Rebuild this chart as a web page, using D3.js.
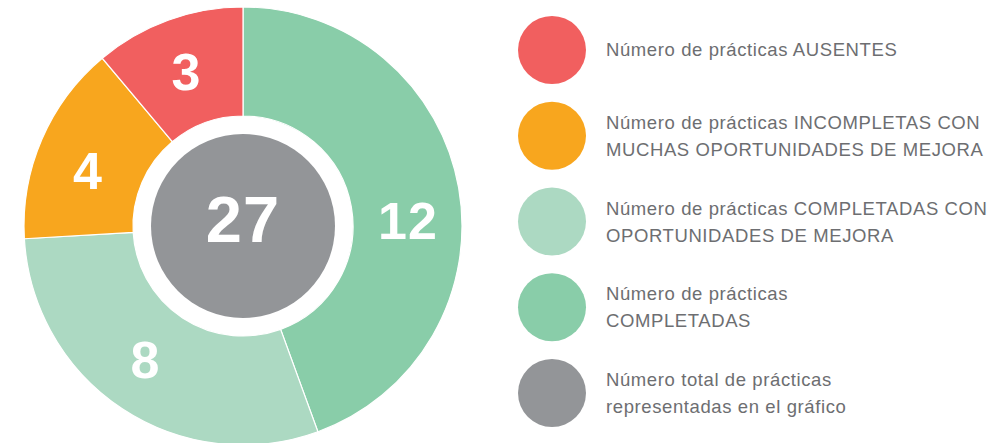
<!DOCTYPE html>
<html lang="es">
<head>
<meta charset="utf-8">
<script src="https://cdn.jsdelivr.net/npm/d3@7"></script>
<style>
    body { margin: 0; background: #fff; }
    .leyenda text {
        font-family: "Liberation Sans", Arial, sans-serif;
        font-size: 18.5px;
        letter-spacing: 0.6px;
        fill: #6d6e71;
    }
    .valor {
        font-family: "Liberation Sans", Arial, sans-serif;
        font-weight: bold;
        fill: #fff;
    }
</style>
</head>
<body>
<script>
// segmentos en sentido horario desde arriba
const categorias = ["COMPLETADAS", "COMPLETADAS CON OPORTUNIDADES", "INCOMPLETAS", "AUSENTES"];
const valores = [12, 8, 4, 3];
const colores = ["#89cda9", "#acd9c2", "#f8a61e", "#f15f5f"];

const total = d3.sum(valores);

const leyendaColores = ["#f15f5f", "#f8a61e", "#acd9c2", "#89cda9", "#939598"];
const leyendaTextos = [
    ["Número de prácticas AUSENTES"],
    ["Número de prácticas INCOMPLETAS CON", "MUCHAS OPORTUNIDADES DE MEJORA"],
    ["Número de prácticas COMPLETADAS CON", "OPORTUNIDADES DE MEJORA"],
    ["Número de prácticas", "COMPLETADAS"],
    ["Número total de prácticas", "representadas en el gráfico"]
];

let w = 1001;
let h = 443;
let svg = d3.select("body")
            .append("svg")
            .attr("width", w)
            .attr("height", h);

let cx = 243, cy = 226;
let rOuter = 219, rInner = 110, rCentro = 92;

let pie = d3.pie().sort(null).value((d) => d);
let arc = d3.arc().innerRadius(rInner).outerRadius(rOuter);
let arcEtiqueta = d3.arc().innerRadius(165).outerRadius(165);

let g = svg.append("g").attr("transform", "translate(" + cx + "," + cy + ")");

let arcos = pie(valores);

g.selectAll("path")
    .data(arcos)
    .enter()
    .append("path")
    .attr("d", arc)
    .attr("fill", (d, i) => colores[i])
    .attr("stroke", "#fff")
    .attr("stroke-width", 1.2);

// pequeño ajuste angular para que las cifras caigan donde el original
let ajuste = [0.14, 0.05, -0.06, 0];

g.selectAll("text.valor")
    .data(arcos)
    .enter()
    .append("text")
    .attr("class", "valor")
    .attr("font-size", "52px")
    .attr("letter-spacing", "1px")
    .attr("text-anchor", "middle")
    .attr("dy", "0.36em")
    .attr("transform", (d, i) => {
        let a = (d.startAngle + d.endAngle) / 2 + ajuste[i];
        let p = arcEtiqueta.centroid({startAngle: a, endAngle: a});
        return "translate(" + p[0] + "," + p[1] + ")";
    })
    .text((d) => d.data);

g.append("circle")
    .attr("r", rCentro)
    .attr("fill", "#939598");

g.append("text")
    .attr("class", "valor")
    .attr("font-size", "65px")
    .attr("letter-spacing", "1px")
    .attr("text-anchor", "middle")
    .attr("dy", "0.34em")
    .attr("y", -6)
    .text(total);

// leyenda
let yLeyenda = d3.scalePoint()
                .domain(d3.range(leyendaTextos.length))
                .range([50, 393]);

let items = svg.append("g")
    .attr("class", "leyenda")
    .selectAll("g")
    .data(leyendaTextos)
    .enter()
    .append("g")
    .attr("transform", (d, i) => "translate(552," + yLeyenda(i) + ")");

items.append("circle")
    .attr("r", 34)
    .attr("fill", (d, i) => leyendaColores[i]);

items.each(function(lineas) {
    let t = d3.select(this).append("text")
        .attr("x", 54)
        .attr("y", lineas.length === 1 ? 6 : -7);
    lineas.forEach((l, j) => {
        t.append("tspan")
            .attr("x", 54)
            .attr("dy", j === 0 ? 0 : 27)
            .text(l);
    });
});
</script>
</body>
</html>
